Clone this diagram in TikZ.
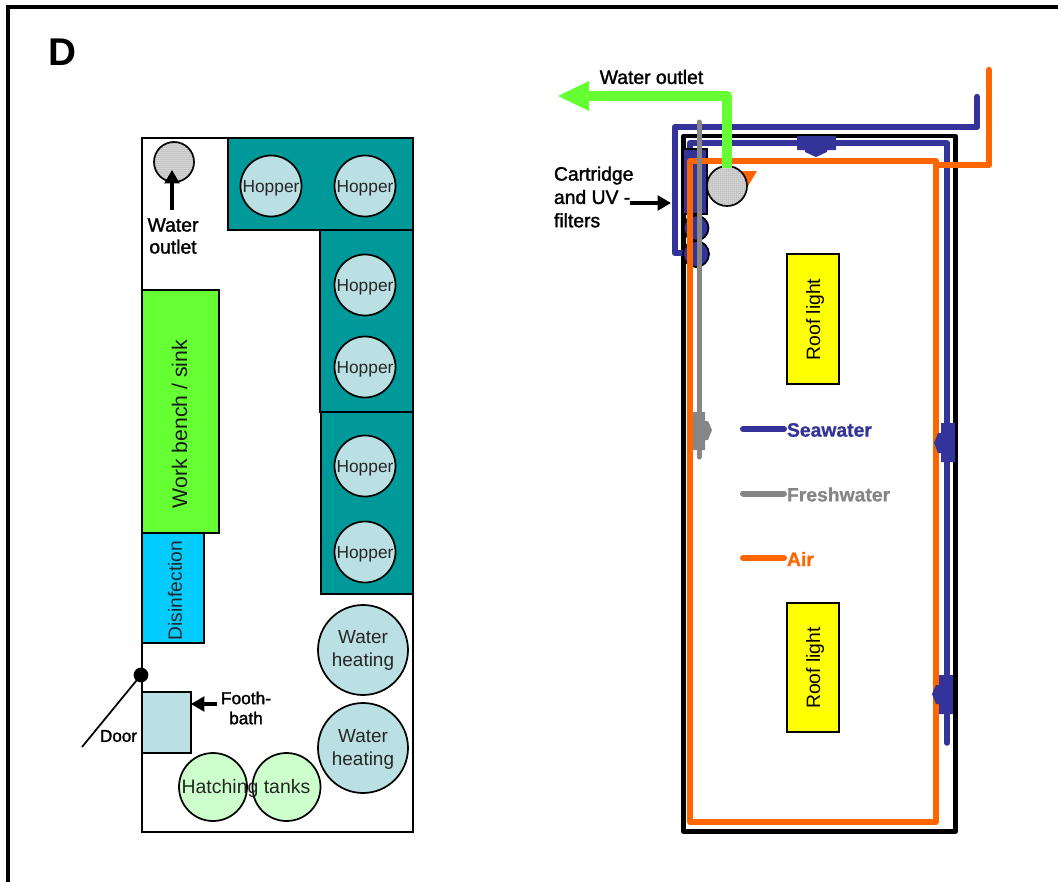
\documentclass[tikz,border=0pt]{standalone}
\usepackage{fontspec}
\setmainfont{Liberation Sans}
\newfontfamily\fakebold[FakeBold=1.6]{Liberation Sans}
\newfontfamily\legendbold[BoldFont={Liberation Sans Bold},FakeBold=0.8]{Liberation Sans Bold}
\usetikzlibrary{arrows.meta,patterns.meta}
\definecolor{seablue}{HTML}{333399}
\definecolor{airorange}{HTML}{FF6600}
\definecolor{freshgray}{HTML}{868686}
\definecolor{outgreen}{HTML}{66FF33}
\definecolor{teal}{HTML}{009999}
\definecolor{paleblue}{HTML}{BBE0E3}
\definecolor{palegreen}{HTML}{CCFFCC}
\definecolor{sky}{HTML}{00CCFF}
\definecolor{roofyellow}{HTML}{FFFF00}
\newcommand{\fs}[1]{\fontsize{#1}{#1}\selectfont}
\tikzset{
  x=0.75pt,y=-0.75pt,
  boxed/.style 2 args={draw=black,line width=1.4pt,inner sep=0pt,outer sep=0pt,minimum width=#1*0.75pt,minimum height=#2*0.75pt},
  disc/.style={circle,draw=black,line width=1.3pt,inner sep=0pt,outer sep=0pt,minimum size=#1*1.5pt},
  lbl/.style={inner sep=0pt,outer sep=0pt,align=center},
  hopper/.style={disc=30.5,fill=paleblue,font=\fs{13pt},text=black!85,text height=12.2pt,text depth=2.7pt},
  heater/.style={disc=45,fill=paleblue},
  hlabel/.style={lbl,font=\fs{14.2pt},text=black!85},
  hatch/.style={disc=34,fill=palegreen},
  outletdisc/.style={disc=20,fill=gray!25,postaction={pattern={Dots[radius=0.38pt,distance=1.5pt]},pattern color=gray!80!black}},
  blk/.style={lbl,font=\fakebold\fs{14.5pt},text=black},
  pipe/.style={line join=round,line cap=round,line width=#1*0.75pt},
  sea/.style={pipe=5.5,draw=seablue},
  air/.style={pipe=5.5,draw=airorange},
  fresh/.style={pipe=5,draw=freshgray},
  pointer/.style={draw=black,line width=2.4pt,-{Triangle[length=10pt,width=11pt]}},
  valve/.style={line join=round,rounded corners=0.3pt,draw=none},
}
\begin{document}
\begin{tikzpicture}
\useasboundingbox (0,0) rectangle (1058,882);
% frame
\coordinate (fa) at (8,882); \coordinate (fb) at (8,7); \coordinate (fc) at (1058,7);
\draw[line width=2.4pt,line join=miter] (fa) -- (fb) -- (fc);
\node[lbl,font=\bfseries\fs{29pt}] (letter) at (62,52) {D};

%% ---- floor plan ----
\node[boxed={271}{694},fill=white] (room) at (277.5,485) {};
\node[boxed={185}{92},fill=teal] (tanka) at (320.5,184) {};
\node[boxed={93}{182},fill=teal] (tankb) at (366.5,321) {};
\node[boxed={92}{182},fill=teal] (tankc) at (367,503) {};
\node[hopper] (h1) at (271,186) {Hopper};
\node[hopper] (h2) at (365,186) {Hopper};
\node[hopper] (h3) at (365,285) {Hopper};
\node[hopper] (h4) at (365,367) {Hopper};
\node[hopper] (h5) at (365,466) {Hopper};
\node[hopper] (h6) at (365,552) {Hopper};
\node[boxed={77}{243},fill=outgreen] (bench) at (180.5,411.5) {};
\node[lbl,rotate=90,font=\fs{15.9pt},text=black!90] (benchlabel) at (179.5,424) {Work bench / sink};
\node[boxed={62}{110},fill=sky] (disinf) at (173,588) {};
\node[lbl,rotate=90,font=\fs{14.4pt},text=black!85] (disinflabel) at (175,590.5) {Disinfection};
\node[heater] (wh1) at (363,650) {};
\node[hlabel] (wh1label) at (363,650) {Water\\[3pt]heating};
\node[heater] (wh2) at (363,748) {};
\node[hlabel] (wh2label) at (363,749) {Water\\[3pt]heating};
\node[boxed={49}{61},fill=paleblue] (bath) at (166.5,722.5) {};
\node[hatch] (ht1) at (213,787) {};
\node[hatch] (ht2) at (286.5,787) {};
\node[lbl,font=\fs{14.6pt},text=black!85] (htlabel) at (246,788) {Hatching tanks};
\node[disc=6.5,fill=black] (hinge) at (141,675) {};
\coordinate (doorend) at (82,747);
\draw[line width=1.3pt] (hinge) -- (doorend);
\node[lbl,font=\fakebold\fs{12.8pt}] (doorlabel) at (118.5,736) {Door};
\node[lbl,font=\fakebold\fs{13pt}] (bathlabel) at (246,708) {Footh-\\[2pt]bath};
\coordinate (batharrow) at (217,704);
\draw[pointer] (batharrow) -- (bath.east |- batharrow);
\node[outletdisc] (outlet) at (174,162) {};
\node[blk,align=center] (outletlabel) at (173,236) {Water\\[2pt]outlet};
\coordinate (oa) at (172,210); \coordinate (ob) at (172,170);
\draw[pointer] (oa) -- (ob);

%% ---- services plan ----
\coordinate (k1) at (683.5,136); \coordinate (k2) at (955.5,136); \coordinate (k3) at (955.5,831.5); \coordinate (k4) at (683.5,831.5);
\draw[line width=3.6pt,line join=round] (k1) -- (k2) -- (k3) -- (k4) -- cycle;
% seawater pipes
\coordinate (s1) at (977,97); \coordinate (s2) at (977,127); \coordinate (s3) at (675,127); \coordinate (s4) at (675,253); \coordinate (s5) at (688,253);
\draw[pipe=6.5,draw=seablue] (s1) -- (s2) -- (s3) -- (s4) -- (s5);
\coordinate (s6) at (690,150); \coordinate (s7) at (690,143); \coordinate (s8) at (947,143); \coordinate (s9) at (947,743);
\draw[sea] (s6) -- (s7) -- (s8) -- (s9);
% filters
\node[boxed={24}{65},fill=seablue,draw=black,line width=0.8pt] (cart) at (695,181.5) {};
\node[disc=12.5,fill=seablue] (f1) at (696,228) {};
\node[disc=13,fill=seablue] (f2) at (696,254) {};
% air
\coordinate (a1) at (690,161); \coordinate (a2) at (936,161); \coordinate (a3) at (936,822); \coordinate (a4) at (690,822);
\draw[air] (a1) -- (a2) -- (a3) -- (a4) -- cycle;
\coordinate (a5) at (936,165); \coordinate (a6) at (989,165); \coordinate (a7) at (989,70);
\draw[pipe=6.5,draw=airorange] (a5) -- (a6) -- (a7);
% valves on seawater
\fill[seablue,valve] (797,136) -- (836,136) -- (836,150) -- (827,150) -- (827,152) -- (816,157) -- (805,152) -- (805,150) -- (797,150) -- cycle;
\fill[seablue,valve] (955,423) -- (941,423) -- (941,433) -- (938,433) -- (934,443) -- (938,453) -- (941,453) -- (941,462) -- (955,462) -- cycle;
\fill[seablue,valve] (953,675) -- (939,675) -- (939,685) -- (936,685) -- (932,694) -- (936,704) -- (939,704) -- (939,714) -- (953,714) -- cycle;
% freshwater
\coordinate (w1) at (699,122); \coordinate (w2) at (699,457);
\draw[fresh] (w1) -- (w2);
\fill[freshgray,valve] (693,412) -- (705,412) -- (705,421) -- (708,421) -- (712,430) -- (708,440) -- (705,440) -- (705,450) -- (693,450) -- cycle;
% outlet
\fill[airorange] (742,171) -- (757,171) -- (748,186) -- cycle;
\node[outletdisc] (drain) at (727,186) {};
\coordinate (g1) at (727,168); \coordinate (g2) at (727,96); \coordinate (g3) at (588,96);
\draw[draw=outgreen,line width=8.2pt,line join=round] (g1) -- (g2) -- (g3);
\fill[outgreen] (558,96) -- (589,81) -- (589,111) -- cycle;
\node[blk] (wolabel) at (651.5,77) {Water outlet};
\node[lbl,font=\fakebold\fs{14.5pt},align=left,anchor=west] (cartlabel) at (554,197) {Cartridge\\[3pt]and UV -\\[3pt]filters};
\coordinate (ca) at (630,203); \coordinate (cb) at (671,203);
\draw[pointer] (ca) -- (cb);
% roof lights
\node[boxed={52}{130},fill=roofyellow] (roof1) at (813,319) {};
\node[lbl,rotate=90,font=\fs{14.5pt}] (roof1label) at (815,319.5) {Roof light};
\node[boxed={52}{129},fill=roofyellow] (roof2) at (813,667.5) {};
\node[lbl,rotate=90,font=\fs{14.5pt}] (roof2label) at (815,668) {Roof light};
% legend
\node[lbl,anchor=west,font=\legendbold\fs{14.5pt},text=seablue] (legsea) at (787,430) {Seawater};
\node[lbl,anchor=west,font=\legendbold\fs{14.5pt},text=freshgray] (legfresh) at (787,494.5) {Freshwater};
\node[lbl,anchor=west,font=\legendbold\fs{14.5pt},text=airorange] (legair) at (787,559) {Air};
\coordinate (l1) at (743,429); \coordinate (l2) at (743,493.5); \coordinate (l3) at (743,558);
\coordinate (le) at (784,429);
\draw[pipe=6,draw=seablue] (l1) -- (le |- l1);
\draw[pipe=6,draw=freshgray] (l2) -- (le |- l2);
\draw[pipe=6,draw=airorange] (l3) -- (le |- l3);
\end{tikzpicture}
\end{document}
